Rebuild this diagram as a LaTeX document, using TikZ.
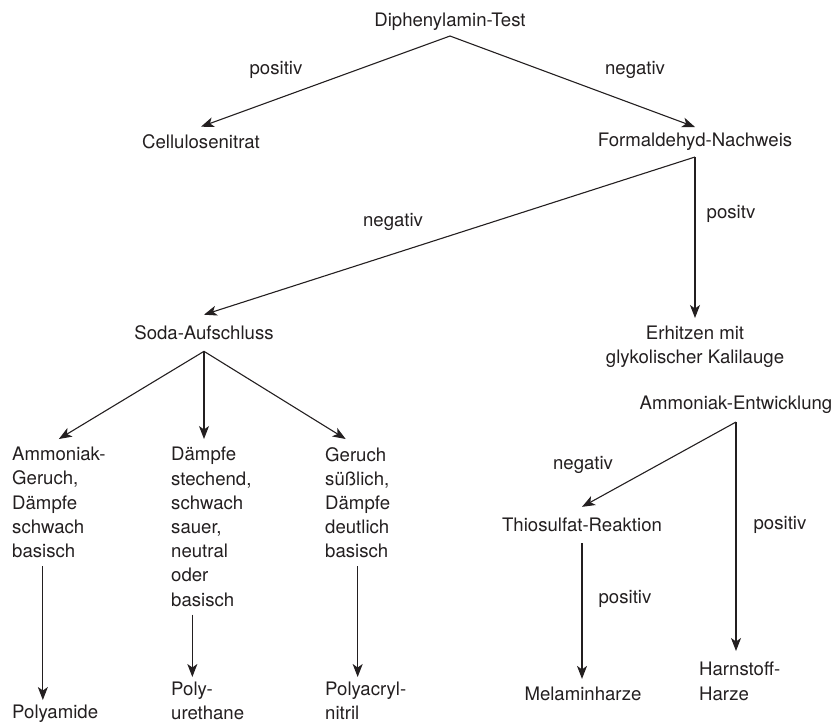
\documentclass[tikz,border=0pt]{standalone}
\usepackage{fontspec}
\setmainfont{TeX Gyre Heros}
\usepackage{xcolor}
\usetikzlibrary{arrows.meta}
\definecolor{ink}{RGB}{35,31,32}
\begin{document}
\begin{tikzpicture}[x=1pt, y=-1pt,
    every node/.style={font=\fontsize{18.6}{24.2}\selectfont, text=ink, inner xsep=0pt, inner ysep=8pt},
    col/.style={anchor=north west, align=left},
    pfeil/.style={draw=ink, line width=1.1pt, -{Stealth[length=13pt, width=10pt, inset=3.5pt]}}]
    \useasboundingbox (0,0) rectangle (837,724);

    % Stufe 1
    \node[inner ysep=5pt] at (450, 22)   (diph) {Diphenylamin-Test};
    \node at (276, 70)   (pos1) {positiv};
    \node at (635, 70)   (neg1) {negativ};
    \node at (201, 142)  (cell) {Cellulosenitrat};
    \node[inner ysep=6pt] at (695, 142)  (form) {Formaldehyd-Nachweis};

    % Stufe 2
    \node at (393, 222)  (neg2) {negativ};
    \node at (731, 214)  (pos2) {positv};
    \node[inner ysep=11pt] at (204, 333)  (soda) {Soda-Aufschluss};
    \node[anchor=north, align=center] at (695, 318) (erh) {Erhitzen mit\\glykolischer Kalilauge};

    % Soda-Aufschluss
    \node[col] at (12, 439)  (col1) {Ammoniak-\\Geruch,\\Dämpfe\\schwach\\basisch};
    \node[col] at (171, 439) (col2) {Dämpfe\\stechend,\\schwach\\sauer,\\neutral\\oder\\basisch};
    \node[col] at (325, 439) (col3) {Geruch\\süßlich,\\Dämpfe\\deutlich\\basisch};
    \node[col, inner ysep=5pt] at (12, 700)  (poly1) {Polyamide};
    \node[col, inner ysep=5pt] at (171, 677) (poly2) {Poly-\\urethane};
    \node[col, inner ysep=5pt] at (325, 677) (poly3) {Polyacryl-\\nitril};

    % Ammoniak-Entwicklung
    \node at (736, 405)  (amm) {Ammoniak-Entwicklung};
    \node at (583, 465)  (neg3) {negativ};
    \node at (780, 525)  (pos4) {positiv};
    \node[inner ysep=11pt] at (582, 525)  (thio) {Thiosulfat-Reaktion};
    \node at (625, 599)  (pos3) {positiv};
    \node at (583, 694)  (mel) {Melaminharze};
    \node[col, inner ysep=11pt] at (699, 651) (harn) {Harnstoff-\\Harze};

    \draw[pfeil] (diph.south) -- (cell.north);
    \draw[pfeil] (diph.south) -- (form.north);
    \draw[pfeil] (form.south) -- (soda.north);
    \draw[pfeil] (form.south) -- (erh.north);
    \draw[pfeil] (soda.south) -- (col1.north);
    \draw[pfeil] (soda.south) -- (soda.south |- col2.north);
    \draw[pfeil] (soda.south) -- ([xshift=-12pt]col3.north);
    \draw[pfeil] ([xshift=-16pt]col1.south) -- ([xshift=-16pt]col1.south |- poly1.north);
    \draw[pfeil] ([xshift=-19pt]col2.south) -- ([xshift=-19pt]col2.south |- poly2.north);
    \draw[pfeil] (col3.south) -- (col3.south |- poly3.north);
    \draw[pfeil] (amm.south) -- (thio.north);
    \draw[pfeil] (amm.south) -- (amm.south |- harn.north);
    \draw[pfeil] (thio.south) -- (thio.south |- mel.north);
\end{tikzpicture}
\end{document}
